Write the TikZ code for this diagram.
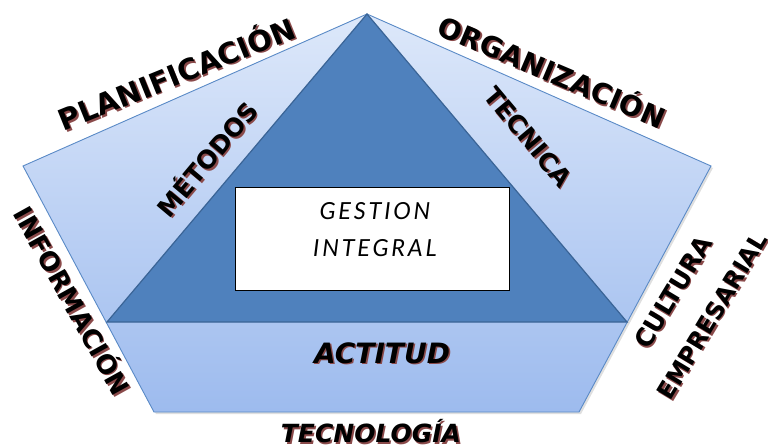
\documentclass[tikz,border=0pt]{standalone}
\usepackage{fontspec}
\newfontfamily\labfont{DejaVu Sans}
\newfontfamily\gfont{Lato}[LetterSpace=12]
\usetikzlibrary{calc,shadows}
\definecolor{triblue}{HTML}{4F81BD}
\definecolor{triedge}{HTML}{3A6496}
\definecolor{pentedge}{HTML}{5A8AC6}
\definecolor{pentop}{HTML}{DDE8FA}
\definecolor{penbot}{HTML}{9DBBEE}
\definecolor{glowc}{HTML}{8A4A4A}
\tikzset{
  lab/.style={font=\labfont\bfseries\fontsize{#1}{#1}\selectfont, inner sep=0pt},
  labsh/.style={lab=#1, text=glowc},
  pent/.style={draw=pentedge, line width=0.9pt, top color=pentop, bottom color=penbot,
    drop shadow={opacity=0.25, shadow xshift=2pt, shadow yshift=-2pt}},
  tri/.style={draw=triedge, line width=1.2pt, fill=triblue, line join=miter},
  box/.style={draw=black, line width=0.8pt, fill=white, minimum width=274pt, minimum height=103pt, inner sep=0pt},
  gtext/.style={font=\gfont\itshape\fontsize{23.5}{37}\selectfont, align=center, inner sep=0pt}
}
\newcommand\glowlabel[6]{%
  \node[labsh=#4, rotate=#3] (#1s) at ($#2+(1.6,1.6)$) {#6#5};
  \node[lab=#4, rotate=#3] (#1) at #2 {#6#5};}
\begin{document}
\begin{tikzpicture}[x=1pt,y=-1pt]
\useasboundingbox (0,0) rectangle (768,447);
\coordinate (T) at (367,14);
\coordinate (UR) at (711,166);
\coordinate (LR) at (579,412);
\coordinate (LL) at (154,412);
\coordinate (UL) at (23,166);
\coordinate (BL) at (107,322);
\coordinate (BR) at (627,322);
\path[pent] (T) -- (UR) -- (LR) -- (LL) -- (UL) -- cycle;
\draw[tri] (T) -- (BR) -- (BL) -- cycle;
\node[box] (box) at (372,238.5) {};
\node[gtext] (g) at (375,230) {GESTION\\INTEGRAL};
\glowlabel{plan}{(176,72)}{22}{29}{PLANIFICACIÓN}{}
\glowlabel{org}{(553,70)}{-23}{28}{ORGANIZACIÓN}{}
\glowlabel{met}{(206,158)}{50}{25}{MÉTODOS}{}
\glowlabel{tec}{(528,137)}{-50}{25}{TECNICA}{}
\glowlabel{inf}{(74,300)}{-61}{26}{INFORMACIÓN}{}
\glowlabel{cul}{(673,292)}{59}{25}{CULTURA}{}
\glowlabel{emp}{(712,316)}{59}{24}{EMPRESARIAL}{}
\glowlabel{act}{(382,353)}{0}{28}{ACTITUD}{\itshape}
\glowlabel{tecn}{(371,431)}{0}{25}{TECNOLOGÍA}{\itshape}
\end{tikzpicture}
\end{document}
